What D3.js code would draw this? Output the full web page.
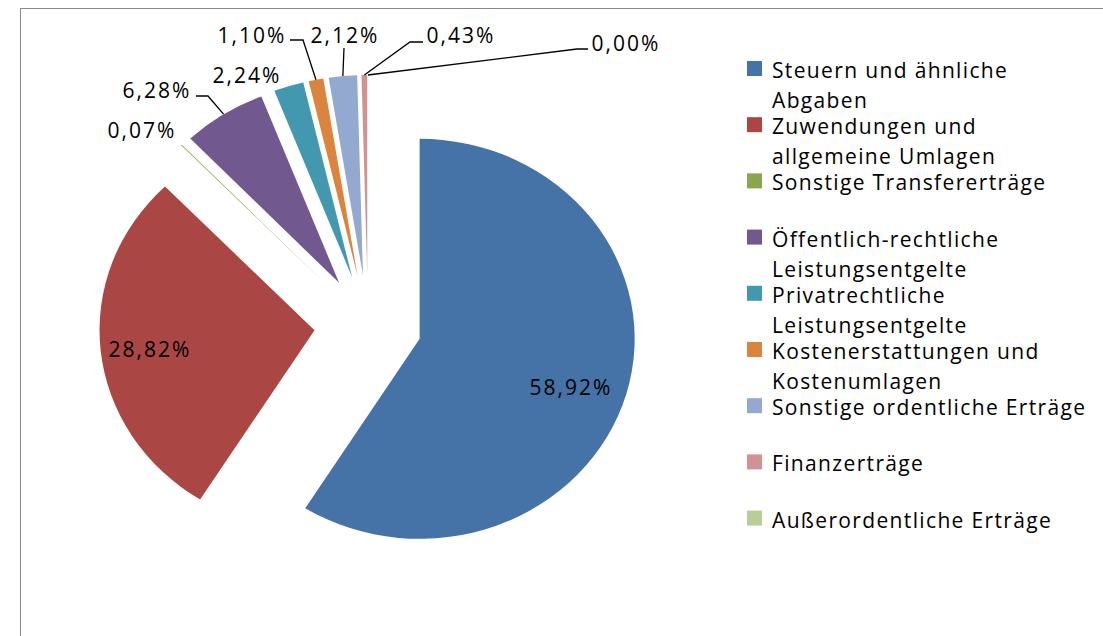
<!DOCTYPE html>
<html>
<head>
<meta charset="utf-8">
<script src="https://cdn.jsdelivr.net/npm/d3@7"></script>
<style>
  html, body { margin: 0; padding: 0; background: #fff; }
  svg { display: block; }
  text { font-family: "Open Sans", sans-serif; fill: #000; }
</style>
</head>
<body>
<svg id="chart" width="1103" height="636"></svg>
<script>
// ---- data ----
const categories = [
  "Steuern und ähnliche Abgaben",
  "Zuwendungen und allgemeine Umlagen",
  "Sonstige Transfererträge",
  "Öffentlich-rechtliche Leistungsentgelte",
  "Privatrechtliche Leistungsentgelte",
  "Kostenerstattungen und Kostenumlagen",
  "Sonstige ordentliche Erträge",
  "Finanzerträge",
  "Außerordentliche Erträge"
];
const values = [58.92, 28.82, 0.07, 6.28, 2.24, 1.10, 2.12, 0.43, 0.00];
const valueLabels = ["58,92%", "28,82%", "0,07%", "6,28%", "2,24%", "1,10%", "2,12%", "0,43%", "0,00%"];
const colors = ["#4572A7", "#AA4643", "#89A54E", "#71588F", "#4198AF", "#DB843D", "#93A9CF", "#D19392", "#B9CD96"];

// ---- layout (positions of data labels and leader elbows) ----
const labelLayout = [
  { x: 571, y: 387, leader: null },
  { x: 150, y: 349, leader: null },
  { x: 142, y: 130, leader: null },
  { x: 157, y: 90,  leader: [[196, 96], [208, 96]] },
  { x: 247, y: 75,  leader: null },
  { x: 252, y: 35,  leader: [[290, 40], [303, 40]] },
  { x: 345, y: 35,  leader: [[344, 48]] },
  { x: 461, y: 35,  leader: [[423, 42], [410, 42]] },
  { x: 626, y: 43,  leader: [[588, 49], [577, 49]] }
];

const svg = d3.select("#chart");

// frame
svg.append("rect")
  .attr("x", 20.5).attr("y", 8.5)
  .attr("width", 1200).attr("height", 800)
  .attr("fill", "none").attr("stroke", "#8a8a8a").attr("stroke-width", 1);

const cx = 368, cy = 325, R = 200, sx = 1.075, explode = 50;

const pie = d3.pie().sort(null).value(d => d);
const arcs = pie(values);
const arcGen = d3.arc().innerRadius(0).outerRadius(R);

const g = svg.append("g").attr("transform", `translate(${cx},${cy}) scale(${sx},1)`);

function offsetOf(a) {
  const m = (a.startAngle + a.endAngle) / 2;
  return [Math.sin(m) * explode, -Math.cos(m) * explode];
}

g.selectAll("path.slice")
  .data(arcs)
  .join("path")
  .attr("class", "slice")
  .attr("d", arcGen)
  .attr("fill", (d, i) => colors[i])
  .attr("transform", d => { const o = offsetOf(d); return `translate(${o[0]},${o[1]})`; });

// leader lines (anchor on outer arc at mid angle, in screen coords)
function anchorOf(a) {
  const m = (a.startAngle + a.endAngle) / 2;
  const dist = R + explode;
  return [cx + Math.sin(m) * dist * sx, cy - Math.cos(m) * dist];
}

const line = d3.line();
arcs.forEach((a, i) => {
  const L = labelLayout[i];
  if (L.leader) {
    const pts = L.leader.concat([anchorOf(a)]);
    svg.append("path")
      .attr("d", line(pts))
      .attr("fill", "none")
      .attr("stroke", "#000")
      .attr("stroke-width", 1.3);
  }
});

// data labels
svg.selectAll("text.dl")
  .data(arcs)
  .join("text")
  .attr("class", "dl")
  .attr("x", (d, i) => labelLayout[i].x)
  .attr("y", (d, i) => labelLayout[i].y)
  .attr("text-anchor", "middle")
  .attr("dominant-baseline", "central")
  .style("font-size", "21px")
  .style("letter-spacing", "2px")
  .text((d, i) => valueLabels[i]);

// legend
const lx = 747, ly0 = 70, step = 56.2, lineH = 30, wrapW = 318;
const fs = "21px", ls = "1.35px";
const leg = svg.append("g");
categories.forEach((name, i) => {
  const y = ly0 + i * step;
  leg.append("rect")
    .attr("x", lx).attr("y", y - 9)
    .attr("width", 15).attr("height", 15)
    .attr("fill", colors[i]);
  const t = leg.append("text")
    .attr("x", lx + 25).attr("y", y)
    .attr("dominant-baseline", "central")
    .style("font-size", fs)
    .style("letter-spacing", ls);
  const words = name.split(" ");
  let lines = [], cur = "";
  const probe = leg.append("text").style("font-size", fs).style("letter-spacing", ls);
  words.forEach(w => {
    const test = cur ? cur + " " + w : w;
    probe.text(test);
    if (probe.node().getComputedTextLength() > wrapW && cur) {
      lines.push(cur); cur = w;
    } else cur = test;
  });
  lines.push(cur);
  probe.remove();
  lines.forEach((ln, k) => {
    t.append("tspan").attr("x", lx + 25).attr("y", y + k * lineH).text(ln);
  });
});
</script>
</body>
</html>
